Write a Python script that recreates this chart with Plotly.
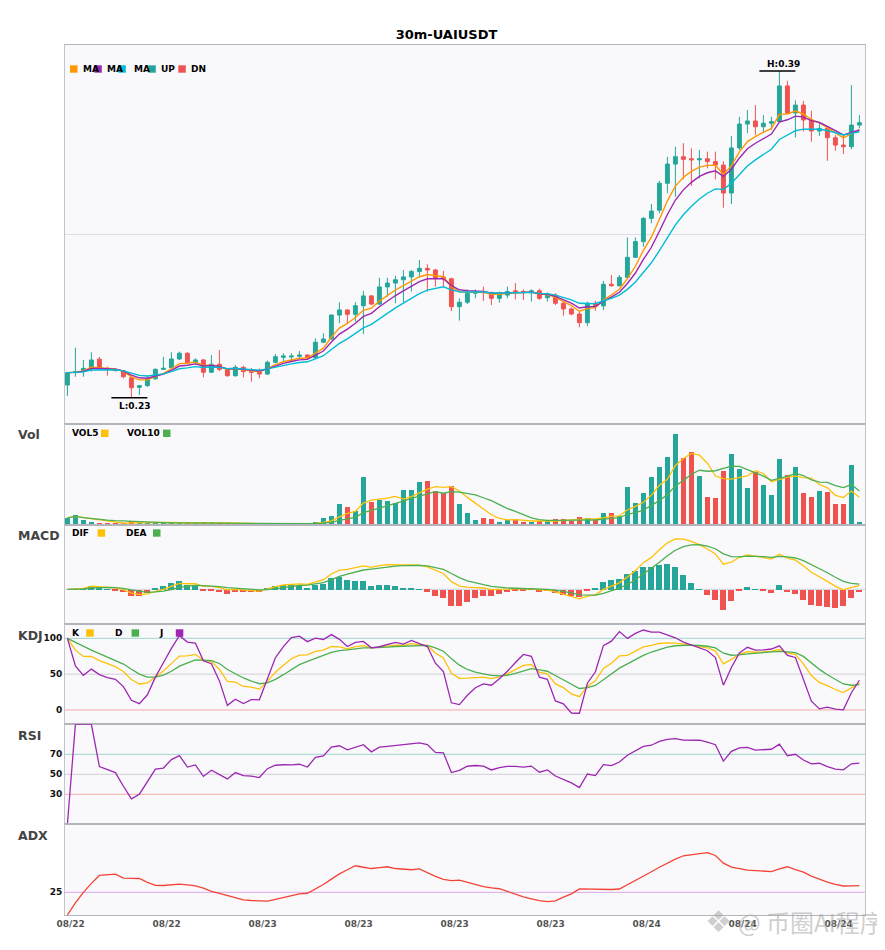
import numpy as np
import pandas as pd
import plotly.graph_objects as go
from plotly.subplots import make_subplots

# Data (30m candles)
opens = [
    0.2361, 0.2422, 0.2427, 0.2443, 0.2488, 0.2443, 0.2438, 0.2431, 0.2397, 0.2350,
    0.2358, 0.2392, 0.2438, 0.2446, 0.2489, 0.2517, 0.2471, 0.2484, 0.2424, 0.2463,
    0.2438, 0.2407, 0.2448, 0.2427, 0.2424, 0.2415, 0.2473, 0.2497, 0.2499, 0.2502,
    0.2508, 0.2495, 0.2571, 0.2587, 0.2704, 0.2729, 0.2708, 0.2750, 0.2798, 0.2758,
    0.2842, 0.2861, 0.2877, 0.2891, 0.2917, 0.2933, 0.2925, 0.2891, 0.2882, 0.2745,
    0.2767, 0.2811, 0.2819, 0.2814, 0.2786, 0.2802, 0.2823, 0.2819, 0.2814, 0.2823,
    0.2789, 0.2802, 0.2762, 0.2734, 0.2709, 0.2667, 0.2762, 0.2749, 0.2855, 0.2848,
    0.2889, 0.2987, 0.3064, 0.3178, 0.3218, 0.3350, 0.3444, 0.3480, 0.3470, 0.3465,
    0.3470, 0.3456, 0.3439, 0.3302, 0.3523, 0.3640, 0.3655, 0.3627, 0.3644, 0.3652,
    0.3827, 0.3694, 0.3733, 0.3660, 0.3606, 0.3619, 0.3573, 0.3537, 0.3529, 0.3635,
]
highs = [
    0.2422, 0.2544, 0.2484, 0.2522, 0.2499, 0.2451, 0.2443, 0.2435, 0.2401, 0.2361,
    0.2406, 0.2443, 0.2500, 0.2522, 0.2525, 0.2522, 0.2492, 0.2489, 0.2508, 0.2533,
    0.2443, 0.2459, 0.2456, 0.2445, 0.2443, 0.2481, 0.2513, 0.2517, 0.2517, 0.2528,
    0.2512, 0.2590, 0.2615, 0.2708, 0.2767, 0.2731, 0.2767, 0.2823, 0.2802, 0.2887,
    0.2887, 0.2897, 0.2925, 0.2925, 0.2974, 0.2953, 0.2930, 0.2920, 0.2887, 0.2786,
    0.2830, 0.2830, 0.2843, 0.2819, 0.2819, 0.2843, 0.2860, 0.2830, 0.2830, 0.2833,
    0.2814, 0.2811, 0.2770, 0.2742, 0.2725, 0.2770, 0.2774, 0.2871, 0.2900, 0.2900,
    0.3085, 0.3085, 0.3183, 0.3248, 0.3362, 0.3480, 0.3529, 0.3546, 0.3521, 0.3513,
    0.3505, 0.3505, 0.3458, 0.3582, 0.3676, 0.3709, 0.3733, 0.3684, 0.3676, 0.3900,
    0.3852, 0.3756, 0.3754, 0.3705, 0.3650, 0.3627, 0.3586, 0.3582, 0.3831, 0.3684,
]
lows = [
    0.2308, 0.2402, 0.2402, 0.2427, 0.2440, 0.2407, 0.2427, 0.2394, 0.2299, 0.2312,
    0.2353, 0.2386, 0.2435, 0.2440, 0.2484, 0.2468, 0.2464, 0.2399, 0.2420, 0.2430,
    0.2402, 0.2402, 0.2399, 0.2378, 0.2394, 0.2410, 0.2468, 0.2476, 0.2479, 0.2492,
    0.2484, 0.2490, 0.2566, 0.2582, 0.2664, 0.2660, 0.2672, 0.2611, 0.2753, 0.2753,
    0.2794, 0.2762, 0.2767, 0.2819, 0.2887, 0.2819, 0.2843, 0.2843, 0.2724, 0.2677,
    0.2758, 0.2786, 0.2774, 0.2753, 0.2765, 0.2786, 0.2781, 0.2778, 0.2770, 0.2778,
    0.2770, 0.2753, 0.2701, 0.2704, 0.2644, 0.2651, 0.2725, 0.2729, 0.2843, 0.2843,
    0.2884, 0.2984, 0.3039, 0.3154, 0.3203, 0.3301, 0.3284, 0.3369, 0.3337, 0.3374,
    0.3423, 0.3369, 0.3230, 0.3248, 0.3513, 0.3595, 0.3586, 0.3595, 0.3611, 0.3648,
    0.3692, 0.3575, 0.3603, 0.3554, 0.3582, 0.3460, 0.3509, 0.3493, 0.3516, 0.3619,
]
closes = [
    0.2422, 0.2427, 0.2443, 0.2484, 0.2443, 0.2438, 0.2433, 0.2402, 0.2348, 0.2358,
    0.2389, 0.2438, 0.2443, 0.2489, 0.2517, 0.2471, 0.2484, 0.2424, 0.2463, 0.2438,
    0.2407, 0.2448, 0.2427, 0.2424, 0.2415, 0.2473, 0.2500, 0.2504, 0.2503, 0.2508,
    0.2495, 0.2571, 0.2587, 0.2704, 0.2729, 0.2708, 0.2750, 0.2798, 0.2758, 0.2842,
    0.2861, 0.2877, 0.2891, 0.2917, 0.2933, 0.2925, 0.2884, 0.2882, 0.2745, 0.2767,
    0.2811, 0.2819, 0.2814, 0.2786, 0.2807, 0.2819, 0.2819, 0.2814, 0.2823, 0.2786,
    0.2802, 0.2762, 0.2734, 0.2709, 0.2667, 0.2762, 0.2749, 0.2855, 0.2848, 0.2889,
    0.2987, 0.3064, 0.3178, 0.3214, 0.3350, 0.3444, 0.3480, 0.3467, 0.3465, 0.3470,
    0.3456, 0.3439, 0.3302, 0.3523, 0.3640, 0.3655, 0.3627, 0.3644, 0.3652, 0.3827,
    0.3694, 0.3733, 0.3660, 0.3606, 0.3619, 0.3573, 0.3537, 0.3529, 0.3635, 0.3647,
]
volumes = [
    6700, 9700, 4700, 2700, 1700, 1700, 1000, 1000, 3300, 1300,
    2700, 2700, 1000, 2700, 1000, 1000, 1000, 2700, 2700, 2700,
    1000, 1000, 1000, 1000, 800, 1000, 900, 800, 800, 900,
    800, 2700, 6700, 8300, 20700, 17700, 13300, 47700, 22700, 25000,
    23700, 21700, 34700, 34700, 42700, 43700, 33700, 31300, 38700, 20700,
    11700, 4700, 6700, 5700, 2700, 4700, 5700, 2700, 2700, 3700,
    3700, 5700, 5700, 3700, 7700, 6700, 4700, 11700, 11700, 8700,
    37700, 21700, 31700, 47700, 57700, 67700, 90700, 66700, 72700, 48700,
    27700, 26700, 53700, 70700, 55700, 36700, 52700, 39700, 29700, 65700,
    49700, 57700, 31700, 27700, 33700, 32700, 20700, 20700, 59700, 2700,
]
times = pd.date_range("2025-08-22 14:00", periods=len(closes), freq="30min")

SYMBOL = "30m-UAIUSDT"
UP, DN = "#26a69a", "#ef5350"
C_MA5, C_MA10, C_MA20 = "#ff9800", "#9c27b0", "#00bcd4"
C_YEL, C_GRN, C_PUR = "#ffc107", "#4caf50", "#9c27b0"
FONT = "DejaVu Sans"

# Indicators
df = pd.DataFrame({"o": opens, "h": highs, "l": lows, "c": closes, "v": volumes})
n = len(df)
x = np.arange(n)
c = df["c"]

ma_fast = c.ewm(span=5, adjust=False).mean()
ma_mid = c.ewm(span=7, adjust=False).mean()
ma_slow = c.ewm(span=12, adjust=False).mean()
vol5 = df["v"].rolling(5, min_periods=1).mean()
vol10 = df["v"].rolling(10, min_periods=1).mean()

dif = c.ewm(span=6, adjust=False).mean() - c.ewm(span=13, adjust=False).mean()
dea = dif.ewm(span=5, adjust=False).mean()
hist = 2 * (dif - dea)

llv = df["l"].rolling(9, min_periods=1).min()
hhv = df["h"].rolling(9, min_periods=1).max()
rsv = ((c - llv) / (hhv - llv) * 100).fillna(50)
k = rsv.ewm(com=2, adjust=False).mean()
d = k.ewm(com=2, adjust=False).mean()
j = 3 * k - 2 * d

delta = c.diff()
gain = delta.clip(lower=0).ewm(com=13, adjust=True).mean()
loss = (-delta.clip(upper=0)).ewm(com=13, adjust=True).mean()
rsi = (100 * gain / (gain + loss)).fillna(0)

prev_c = c.shift(1)
tr = pd.concat([df["h"] - df["l"], (df["h"] - prev_c).abs(), (df["l"] - prev_c).abs()], axis=1).max(axis=1)
up_move = df["h"].diff()
dn_move = -df["l"].diff()
pdm = pd.Series(np.where((up_move > dn_move) & (up_move > 0), up_move, 0.0))
mdm = pd.Series(np.where((dn_move > up_move) & (dn_move > 0), dn_move, 0.0))
atr = tr.ewm(span=14, adjust=False).mean()
pdi = 100 * pdm.ewm(span=14, adjust=False).mean() / atr
mdi = 100 * mdm.ewm(span=14, adjust=False).mean() / atr
dx = (100 * (pdi - mdi).abs() / (pdi + mdi)).fillna(0)
adx = dx.ewm(span=14, adjust=False).mean()

bar_colors = [UP if cl >= op else DN for op, cl in zip(opens, closes)]
hist_colors = [UP if hv >= 0 else DN for hv in hist]

# Layout helpers (page pixel -> paper); the page body adds an 8px offset
OFF = 8
W, H = 885 - OFF, 950 - OFF
L_PX, R_PX, T_PX, B_PX = 65, 865, 45, 915
def px(v):
    return (v - L_PX) / (R_PX - L_PX)
def py(v):
    return (B_PX - v) / (B_PX - T_PX)

bounds = [45, 424, 524.7, 624, 724.3, 824.3, 915]
domains = [[py(bounds[i + 1]), py(bounds[i])] for i in range(6)]

fig = make_subplots(rows=6, cols=1, shared_xaxes=True, vertical_spacing=0)

fig.add_trace(go.Candlestick(
    x=x, open=opens, high=highs, low=lows, close=closes,
    increasing=dict(line=dict(color=UP, width=1), fillcolor=UP),
    decreasing=dict(line=dict(color=DN, width=1), fillcolor=DN),
    whiskerwidth=0, showlegend=False,
), row=1, col=1)
for s, col in [(ma_fast, C_MA5), (ma_mid, C_MA10), (ma_slow, C_MA20)]:
    fig.add_trace(go.Scatter(x=x, y=s, mode="lines", line=dict(color=col, width=1.4),
                             showlegend=False), row=1, col=1)

fig.add_trace(go.Bar(x=x, y=volumes, marker_color=bar_colors, marker_line_width=0,
                     width=0.7, showlegend=False), row=2, col=1)
fig.add_trace(go.Scatter(x=x, y=vol5, mode="lines", line=dict(color=C_YEL, width=1.3),
                         showlegend=False), row=2, col=1)
fig.add_trace(go.Scatter(x=x, y=vol10, mode="lines", line=dict(color=C_GRN, width=1.3),
                         showlegend=False), row=2, col=1)

fig.add_trace(go.Bar(x=x, y=hist, marker_color=hist_colors, marker_line_width=0,
                     width=0.75, showlegend=False), row=3, col=1)
fig.add_trace(go.Scatter(x=x, y=dif, mode="lines", line=dict(color=C_YEL, width=1.3),
                         showlegend=False), row=3, col=1)
fig.add_trace(go.Scatter(x=x, y=dea, mode="lines", line=dict(color=C_GRN, width=1.3),
                         showlegend=False), row=3, col=1)

for s, col in [(k, C_YEL), (d, C_GRN), (j, C_PUR)]:
    fig.add_trace(go.Scatter(x=x, y=s, mode="lines", line=dict(color=col, width=1.3),
                             showlegend=False), row=4, col=1)

fig.add_trace(go.Scatter(x=x, y=rsi, mode="lines", line=dict(color=C_PUR, width=1.3),
                         showlegend=False), row=5, col=1)
fig.add_trace(go.Scatter(x=x, y=adx, mode="lines", line=dict(color="#f44336", width=1.3),
                         showlegend=False), row=6, col=1)

# Axes
dmax = float(max(dif.max(), dea.max()))
macd_range = [-0.69 * dmax, 1.284 * dmax]
y_ranges = [[0.21703, 0.40274], [0, 100400], macd_range, [-20, 120], [0, 100], [0, 100]]
y_ticks = [[0.31], [], [], [0, 50, 100], [30, 50, 70], [25]]

tick_idx = list(range(0, n, 12))
for r in range(1, 7):
    fig.update_yaxes(
        domain=domains[r - 1], range=y_ranges[r - 1], tickvals=y_ticks[r - 1],
        showticklabels=r >= 4, showgrid=(r == 1), gridcolor="#dcdce4", zeroline=False,
        showline=True, linecolor="#c4c4cc", mirror=True, ticks="",
        tickfont=dict(family=FONT, size=9, color="#111", weight="bold"),
        row=r, col=1,
    )
    fig.update_xaxes(
        range=[-0.3, n - 0.3], showgrid=False, zeroline=False,
        showline=True, linecolor="#b4b4bc", mirror=True, ticks="",
        tickvals=[i + 0.4 for i in tick_idx],
        ticktext=[times[i].strftime("%m/%d") for i in tick_idx],
        showticklabels=(r == 6), rangeslider_visible=False,
        tickfont=dict(family=FONT, size=9, color="#555", weight="bold"),
        row=r, col=1,
    )

shapes = []
def hline(yref, yv, color):
    shapes.append(dict(type="line", xref="paper", yref=yref, x0=0, x1=1, y0=yv, y1=yv,
                       line=dict(color=color, width=1), layer="below"))
hline("y3", 0, "#d0d0d8")
hline("y4", 100, "#9fd4cf")
hline("y4", 50, "#cfcfd6")
hline("y4", 0, "#f4a9a9")
hline("y5", 70, "#9fd4cf")
hline("y5", 50, "#cfcfd6")
hline("y5", 30, "#f4a9a9")
hline("y6", 25, "#dba8e6")

# High / low markers
hi_i = int(np.argmax(highs))
lo_i = int(np.argmin(lows))
annotations = []
for i, yv, txt, yshift in [(hi_i, highs[hi_i], f"H:{highs[hi_i]:.2f}", 7),
                           (lo_i, lows[lo_i], f"L:{lows[lo_i]:.2f}", -8)]:
    shapes.append(dict(type="line", xref="x", yref="y", x0=i - 2.5, x1=i + 2, y0=yv, y1=yv,
                       line=dict(color="black", width=1.3)))
    annotations.append(dict(x=i + 0.5, y=yv, xref="x", yref="y", text=txt, showarrow=False,
                            yshift=yshift, font=dict(family=FONT, size=9, color="black", weight="bold")))

# Custom legends
def legend_square(x0, ycen, color):
    shapes.append(dict(type="rect", xref="paper", yref="paper",
                       x0=px(x0), x1=px(x0 + 7.5), y0=py(ycen + 3.7), y1=py(ycen - 3.7),
                       fillcolor=color, line_width=0, layer="above"))
def legend_text(x0, ycen, txt):
    annotations.append(dict(x=px(x0), y=py(ycen), xref="paper", yref="paper", text=txt,
                            xanchor="left", yanchor="middle", showarrow=False,
                            font=dict(family=FONT, size=9, color="black", weight="bold")))

for sx, tx, col, txt in [(70, 81, C_MA5, "MA"), (94.3, 105, C_MA10, "MA"),
                         (118.3, 131.5, C_MA20, "MA"), (148.3, 159, UP, "UP"), (178.3, 189, DN, "DN")]:
    legend_square(sx, 69, col)
    legend_text(tx, 69, txt)
for sx, tx, col, txt in [(101, 70, C_YEL, "VOL5"), (163, 125, C_GRN, "VOL10")]:
    legend_square(sx, 433.3, col)
    legend_text(tx, 433.3, txt)
for sx, tx, col, txt in [(97.6, 70, C_YEL, "DIF"), (153, 123.5, C_GRN, "DEA")]:
    legend_square(sx, 533, col)
    legend_text(tx, 533, txt)
for sx, tx, col, txt in [(86.2, 70, C_YEL, "K"), (131.6, 113, C_GRN, "D"), (175.8, 157, C_PUR, "J")]:
    legend_square(sx, 633, col)
    legend_text(tx, 633, txt)

for txt, yp in [("Vol", 434), ("MACD", 535), ("KDJ", 635), ("RSI", 735), ("ADX", 835)]:
    annotations.append(dict(x=px(16), y=py(yp), xref="paper", yref="paper", text=txt,
                            xanchor="left", yanchor="middle", showarrow=False,
                            font=dict(family=FONT, size=12.5, color="#444", weight="bold")))

# Watermark
WM = "rgba(165,165,165,0.55)"
annotations.append(dict(x=px(718), y=py(921), xref="paper", yref="paper", text="❖",
                        xanchor="center", yanchor="middle", showarrow=False,
                        font=dict(family=FONT, size=30, color=WM)))
annotations.append(dict(x=px(736), y=py(921), xref="paper", yref="paper", text="@ 币圈AI程序",
                        xanchor="left", yanchor="middle", showarrow=False,
                        font=dict(family="Noto Sans CJK SC", size=24, color=WM)))

fig.update_layout(
    width=W, height=H,
    margin=dict(l=L_PX - OFF, r=885 - R_PX, t=T_PX - OFF, b=950 - B_PX),
    title=dict(text=SYMBOL, x=0.5, xanchor="center", y=1 - (34 - OFF) / H, yanchor="middle",
               font=dict(family=FONT, size=13, color="black", weight="bold")),
    paper_bgcolor="white", plot_bgcolor="#f9f9fc",
    showlegend=False, bargap=0, hovermode=False,
    shapes=shapes, annotations=annotations,
    font=dict(family=FONT),
)

fig.write_html("out.html")
